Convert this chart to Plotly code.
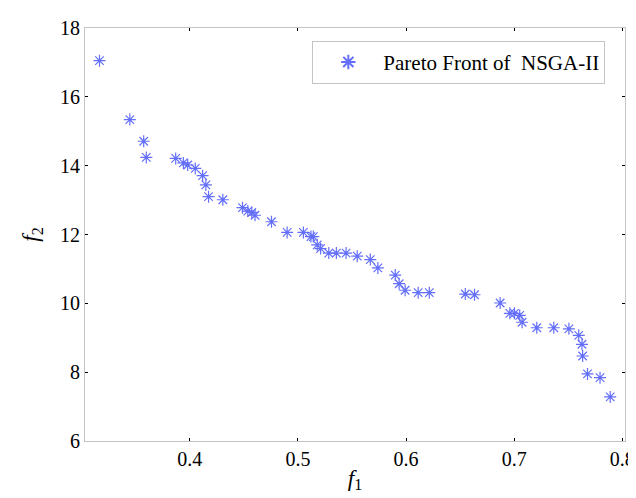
import plotly.graph_objects as go

f1 = [0.3164, 0.3445, 0.3573, 0.3597, 0.3869, 0.3940, 0.3980, 0.4050, 0.4118, 0.4148,
      0.4173, 0.4305, 0.4487, 0.4536, 0.4573, 0.4603, 0.4755, 0.4900, 0.5050, 0.5120,
      0.5142, 0.5178, 0.5209, 0.5285, 0.5355, 0.5445, 0.5548, 0.5669, 0.5739, 0.5900,
      0.5936, 0.5991, 0.6112, 0.6215, 0.6548, 0.6633, 0.6870, 0.6960, 0.7003, 0.7051,
      0.7073, 0.7209, 0.7366, 0.7506, 0.7597, 0.7627, 0.7633, 0.7678, 0.7794, 0.7888]
f2 = [17.05, 15.34, 14.71, 14.24, 14.21, 14.08, 14.02, 13.92, 13.71, 13.44,
      13.10, 13.01, 12.78, 12.68, 12.64, 12.56, 12.37, 12.06, 12.06, 11.94,
      11.94, 11.70, 11.59, 11.46, 11.46, 11.46, 11.37, 11.27, 11.03, 10.82,
      10.57, 10.38, 10.31, 10.31, 10.27, 10.25, 10.01, 9.71, 9.71, 9.65,
      9.45, 9.29, 9.29, 9.26, 9.07, 8.81, 8.47, 7.95, 7.84, 7.28]

x_ticks = [0.4, 0.5, 0.6, 0.7, 0.8]
y_ticks = [6, 8, 10, 12, 14, 16, 18]

FONT = "Liberation Serif, Times New Roman, serif"

fig = go.Figure()
fig.add_trace(go.Scatter(
    x=f1, y=f2, mode="markers", name="Pareto Front of  NSGA-II",
    marker=dict(symbol="asterisk-open", size=10,
                line=dict(color="rgba(30,30,255,0.9)", width=1.2)),
))

axis_common = dict(
    showline=True, linecolor="#c4c4c4", linewidth=1, mirror="allticks",
    ticks="inside", tickcolor="black", ticklen=3, tickwidth=1,
    showgrid=False, zeroline=False,
    tickfont=dict(family=FONT, size=20, color="black"),
)

fig.update_layout(
    width=636, height=498,
    margin=dict(l=77, r=9, t=14, b=65),
    plot_bgcolor="white", paper_bgcolor="white",
    font=dict(family=FONT, color="black"),
    xaxis=dict(range=[0.303, 0.8025], tickvals=x_ticks, ticktext=[str(t) for t in x_ticks],
               title=dict(text="<i>f</i><sub>1</sub>", font=dict(family=FONT, size=23), standoff=0),
               **axis_common),
    yaxis=dict(range=[6, 18], tickvals=y_ticks,
               title=dict(text="<i>f</i><sub>2</sub>", font=dict(family=FONT, size=23), standoff=14),
               **axis_common),
    showlegend=True,
    legend=dict(x=0.9636, y=0.969, xanchor="right", yanchor="top",
                bgcolor="white", bordercolor="#c4c4c4", borderwidth=1,
                font=dict(family=FONT, size=21, color="black"),
                itemsizing="constant", itemwidth=60),
)

fig.write_html("out.html")
